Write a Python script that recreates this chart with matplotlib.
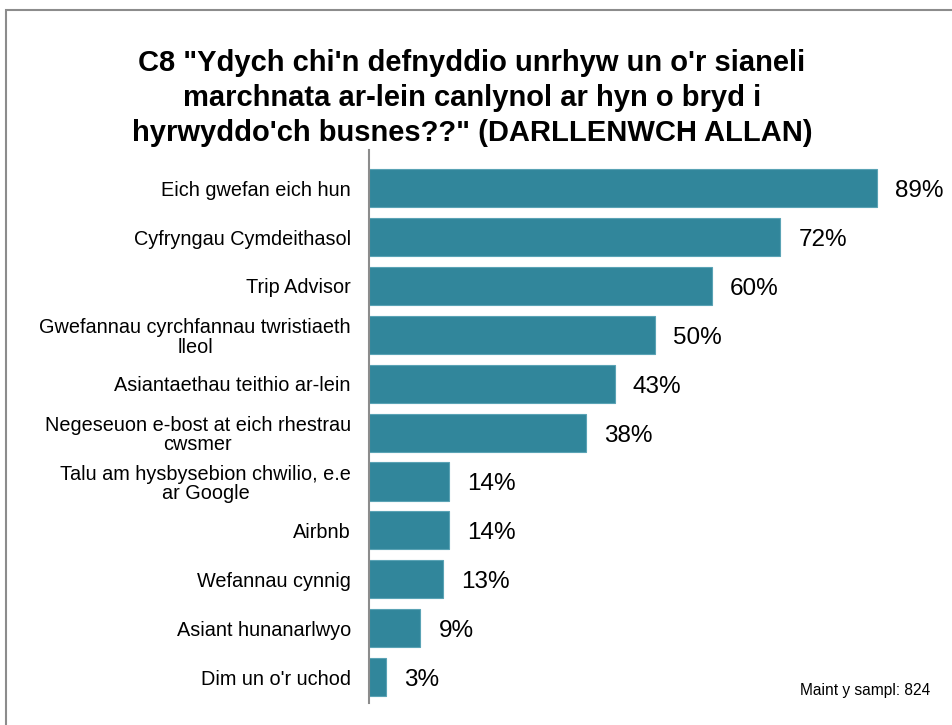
import matplotlib
matplotlib.use("Agg")
import matplotlib.pyplot as plt
from matplotlib.patches import Rectangle

categories = [
    "Eich gwefan eich hun",
    "Cyfryngau Cymdeithasol",
    "Trip Advisor",
    "Gwefannau cyrchfannau twristiaeth\nlleol",
    "Asiantaethau teithio ar-lein",
    "Negeseuon e-bost at eich rhestrau\ncwsmer",
    "Talu am hysbysebion chwilio, e.e\nar Google",
    "Airbnb",
    "Wefannau cynnig",
    "Asiant hunanarlwyo",
    "Dim un o'r uchod",
]
values = [89, 72, 60, 50, 43, 38, 14, 14, 13, 9, 3]
value_labels = ["89%", "72%", "60%", "50%", "43%", "38%", "14%", "14%", "13%", "9%", "3%"]

plt.rcParams['font.family'] = ['Liberation Sans', 'DejaVu Sans']

W, H = 952, 725
fig = plt.figure(figsize=(W / 100, H / 100), dpi=100)

# figure border
fig.patches.append(Rectangle((6 / W, -0.05), 1.1, 1 - 10 / H + 0.05, transform=fig.transFigure,
                             fill=False, edgecolor="#8c8c8c", linewidth=1.5))

ax = fig.add_axes([369 / W, 1 - 703 / H, (940 - 369) / W, (703 - 150) / H])
y = list(range(len(categories)))
ax.barh(y, values, height=0.78, color="#31869B", edgecolor="#5aa3b5", linewidth=0.8)
ax.set_xlim(0, 100)
ax.set_ylim(10.53, -0.78)
for yi, v, lab in zip(y, values, value_labels):
    ax.text(v + 3.2, yi + 0.06, lab, va="center", ha="left", fontsize=17.5, color="black")

ax.set_yticks(y)
ax.set_yticklabels(categories, fontsize=14.3, multialignment="center", linespacing=1.05)
ax.tick_params(axis="y", length=0, pad=13)
ax.set_xticks([])
for s in ["top", "right", "bottom"]:
    ax.spines[s].set_visible(False)
ax.spines["left"].set_color("#8c8c8c")
ax.spines["left"].set_linewidth(1.5)

fig.text(472 / W, 1 - 98 / H,
         "C8 \"Ydych chi'n defnyddio unrhyw un o'r sianeli\nmarchnata ar-lein canlynol ar hyn o bryd i\nhyrwyddo'ch busnes??\" (DARLLENWCH ALLAN)",
         ha="center", va="center", fontsize=21, fontweight="bold", linespacing=1.3)

fig.text(930 / W, 1 - 691 / H, "Maint y sampl: 824", ha="right", va="center", fontsize=11.2)

fig.savefig("out.png", dpi=100)
